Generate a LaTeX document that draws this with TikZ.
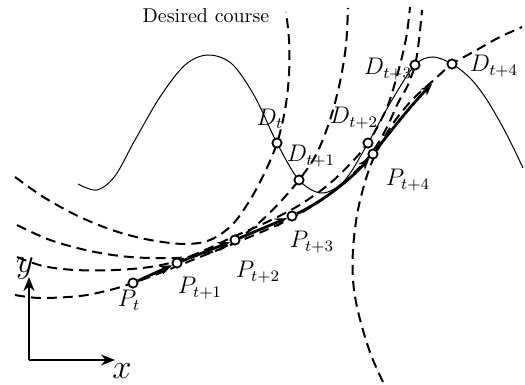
\documentclass[tikz,border=0pt]{standalone}
\usetikzlibrary{arrows.meta}
\begin{document}
\begin{tikzpicture}[x=0.5pt,y=-0.5pt,
  course/.style={line width=0.5pt},
  pursuit/.style={line width=1pt, dash pattern=on 5pt off 3pt},
  robotpath/.style={line width=1.4pt, -{Stealth[length=6pt,width=4.5pt]}},
  axisarrow/.style={line width=1.3pt, -{Stealth[length=7pt,width=5.5pt]}},
  ptmark/.style={circle, draw, line width=0.9pt, fill=white, minimum size=4.6pt, inner sep=0pt},
  lbl/.style={inner sep=0pt, font=\fontsize{12}{14}\selectfont}]
\useasboundingbox (0,0) rectangle (525,385);

% desired course
\draw[course] plot[smooth, tension=0.55] coordinates {(78,184) (97,190) (115,176) (135,140) (160,97) (185,65) (208,55) (232,64) (255,97) (277,143) (299,180) (322,193) (345,180) (368,143) (392,100) (415,65) (433,57) (452,64) (470,78) (485,97) (500,122) (512,145) (523,168)};

% pursuit arcs
\draw[pursuit] plot[smooth, tension=0.55] coordinates {(15,177) (45,198) (80,217) (115,231) (150,240) (185,244) (210,240) (232,225) (250,200) (265,172) (277,143) (285,110) (289,75) (289,40) (286,12)};
\draw[pursuit] plot[smooth, tension=0.55] coordinates {(17,225) (50,240) (90,251) (130,257) (175,258) (205,254) (232,243) (260,222) (282,200) (299,180) (316,155) (330,120) (340,82) (346,45) (348,8)};
\draw[pursuit] plot[smooth, tension=0.55] coordinates {(17,257) (43,266) (75,270) (115,270) (150,267) (177,261) (205,250) (235,236) (265,223) (298,206) (328,185) (352,162) (368,143) (380,122) (388,105) (395,83) (402,57) (407,33) (410,7)};
\draw[pursuit] plot[smooth, tension=0.55] coordinates {(15,295) (40,298) (80,296) (110,290) (133,283) (160,273) (200,257) (240,241) (290,219) (330,194) (360,167) (377,145) (388,125) (398,103) (407,87) (415,65) (419,40) (422,10)};
\draw[pursuit] plot[smooth, tension=0.55] coordinates {(383,382) (373,360) (365,337) (357,307) (353,280) (353,250) (357,215) (365,182) (375,155) (392,125) (412,100) (435,79) (452,64) (475,51) (498,38) (522,27)};

% points
\node[ptmark] (Dt)  at (277,143) {};
\node[ptmark] (Dt1) at (299,180) {};
\node[ptmark] (Dt2) at (368,143) {};
\node[ptmark] (Dt3) at (415,65) {};
\node[ptmark] (Dt4) at (452,64) {};
\node[ptmark] (Pt)  at (133,283) {};
\node[ptmark] (Pt1) at (177,263) {};
\node[ptmark] (Pt2) at (235,240) {};
\node[ptmark] (Pt3) at (292,216) {};
\node[ptmark] (Pt4) at (373,154) {};
\coordinate (Pend) at (432,84);

% robot path
\draw[robotpath] (Pt) -- (Pt1);
\draw[robotpath] (Pt1) -- (Pt2);
\draw[robotpath] (Pt2) -- (Pt3);
\draw[robotpath] (Pt3) .. controls (322,202) and (351,179) .. (Pt4);
\draw[robotpath] (Pt4) .. controls (390,132) and (412,104) .. (Pend);

% axes
\coordinate (O) at (29,360);
\coordinate (Yend) at (29,277);
\coordinate (Xend) at (115,360);
\draw[axisarrow] (O) -- (Yend);
\draw[axisarrow] (O) -- (Xend);
\node[lbl, font=\fontsize{17}{20}\selectfont] (ylab) at (25,268) {$y$};
\node[lbl, font=\fontsize{17}{20}\selectfont] (xlab) at (122,371) {$x$};

% labels
\node[inner sep=0pt] (title) at (206,16) {Desired course};
\node[lbl] (LDt)  at (270,119) {$D_t$};
\node[lbl] (LDt1) at (311,156) {$D_{t+1}$};
\node[lbl] (LDt2) at (354,118) {$D_{t+2}$};
\node[lbl] (LDt3) at (388,69) {$D_{t+3}$};
\node[lbl] (LDt4) at (494,66) {$D_{t+4}$};
\node[lbl] (LPt)  at (129,300) {$P_t$};
\node[lbl] (LPt1) at (200,288) {$P_{t+1}$};
\node[lbl] (LPt2) at (258,272) {$P_{t+2}$};
\node[lbl] (LPt3) at (312,242) {$P_{t+3}$};
\node[lbl] (LPt4) at (408,180) {$P_{t+4}$};
\end{tikzpicture}
\end{document}
